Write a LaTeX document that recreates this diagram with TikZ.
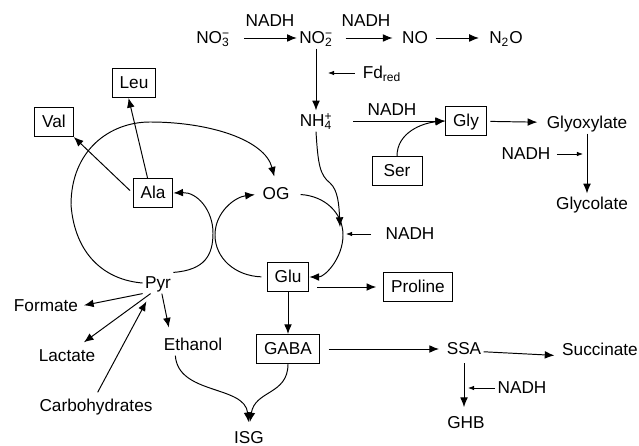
\documentclass[tikz,border=0pt]{standalone}
\usepackage{fontspec}
\setmainfont{Liberation Sans}
\usepackage{tikz}
\usetikzlibrary{arrows.meta, calc, positioning}
\tikzstyle{txt} = [inner sep=0.04cm, text height=1.5ex, text depth=0.25ex]
\tikzstyle{box} = [draw, txt, inner xsep=0.15cm, minimum height=0.58cm]
\tikzstyle{nadh} = [-{Latex[length=3.5pt,width=2.6pt]}, line width=0.4pt]
\newcommand{\ionchg}[2]{\rlap{\textsuperscript{#2}}\textsubscript{#1}}

\begin{document}
\begin{tikzpicture}[>={Latex[length=5.5pt,width=4.4pt]}, x=0.02cm, y=-0.02cm, line width=0.55pt,
    font=\fontsize{9.8}{11.8}\selectfont]
    \useasboundingbox (0,0) rectangle (639,446);

    \node[txt] (NOiii) at (213,38) {NO\ionchg{3}{−}};
    \node[txt] (NOii) at (316,38) {NO\ionchg{2}{−}};
    \node[txt] (NO) at (415,38) {NO};
    \node[txt] (NiiO) at (506,38) {N\textsubscript{2}O};
    \node[txt] (NADHa) at (270,21) {NADH};
    \node[txt] (NADHb) at (366,21) {NADH};
    \node[txt, inner xsep=0.15cm] (Fd) at (382,73) {Fd\textsubscript{red}};
    \node[txt] (NH) at (316,121) {NH\ionchg{4}{+}};
    \node[txt] (NADHc) at (392,110) {NADH};
    \node[box] (Gly) at (466,121) {Gly};
    \node[box, minimum width=1.0cm] (Ser) at (397,171) {Ser};
    \node[txt] (Glyox) at (587,123) {Glyoxylate};
    \node[txt, inner xsep=0.12cm] (NADHd) at (526,154) {NADH};
    \node[txt] (Glycol) at (592,204) {Glycolate};

    \node[box] (Leu) at (134,83) {Leu};
    \node[box] (Val) at (54,122) {Val};
    \node[box] (Ala) at (153,193) {Ala};
    \node[txt] (OG) at (276,194) {OG};
    \node[txt] (Pyr) at (158,283) {Pyr};
    \node[box] (Glu) at (288,277) {Glu};
    \node[txt, inner xsep=0.28cm] (NADHe) at (410,234) {NADH};
    \node[box] (Pro) at (418,287) {Proline};
    \node[box] (GABA) at (288,349) {GABA};
    \node[txt] (SSA) at (464,349) {SSA};
    \node[txt] (Succ) at (600,350) {Succinate};
    \node[txt] (NADHf) at (522,388) {NADH};
    \node[txt] (GHB) at (466,423) {GHB};
    \node[txt] (Form) at (46,306) {Formate};
    \node[txt] (Lact) at (67,356) {Lactate};
    \node[txt] (Carb) at (96,406) {Carbohydrates};
    \node[txt] (EtOH) at (193,345) {Ethanol};
    \node[txt] (ISG) at (249,438) {ISG};

    \coordinate (fdtip) at (328,73);
    \coordinate (nadhdtip) at (583,154);
    \coordinate (nadhetip) at (346,234);
    \coordinate (nadhftip) at (468,388);
    \coordinate (nhtip) at (340,227);

    \draw[->, shorten <=7pt] (NOiii) -- (NOii);
    \draw[->, shorten <=6pt, shorten >=4pt] (NOii) -- (NO);
    \draw[->, shorten <=3pt, shorten >=4.5pt] (NO) -- (NiiO);
    \draw[->] (NOii) -- (NH);
    \draw[nadh] (Fd) -- (fdtip);

    \draw[->, shorten <=10.5pt] (NH) -- (Gly);
    \draw[->] (Ser.north) to[out=90, in=185] (Gly.west);
    \draw[->, shorten <=2pt, shorten >=4pt] (Gly) -- (Glyox);
    \draw[->] (Glyox.south) -- (Glyox.south |- Glycol.north);
    \draw[nadh] (NADHd) -- (nadhdtip);

    \draw[->] (Ala.110) -- (Leu.250);
    \draw[->, shorten <=2pt] (Ala.west) -- (Val.south east);
    \draw[->, shorten >=4pt] (Pyr.west) .. controls (105,280) and (75,255) .. (71,205)
        .. controls (71,150) and (110,122) .. (150,122)
        .. controls (210,122) and (265,140) .. (OG.north);
    \draw[->] (Pyr.north east) .. controls (205,270) and (213,255) .. (213,233)
        .. controls (213,210) and (197,192) .. (Ala.east);
    \draw[->, shorten <=3pt, shorten >=3pt] (Glu.west) .. controls (235,276) and (215,258) .. (215,235)
        .. controls (215,212) and (235,197) .. (OG.west);
    \draw[->, shorten <=5pt] (OG.east) .. controls (325,196) and (343,213) .. (343,235)
        .. controls (343,258) and (325,277) .. (Glu.east);
    \draw[->] (NH.south) .. controls (318,165) and (320,175) .. (330,183)
        .. controls (338,190) and (339,205) .. (nhtip);
    \draw[nadh] (NADHe) -- (nadhetip);

    \draw[->, shorten <=4.5pt, shorten >=4pt] (Glu.east |- Pro.west) -- (Pro.west);
    \draw[->] (Glu) -- (GABA);
    \draw[->, shorten <=5pt, shorten >=3pt] (GABA) -- (SSA);
    \draw[->, shorten >=3pt] (SSA.-8) -- (Succ.188);
    \draw[->, shorten <=2pt, shorten >=3pt] (SSA.south) -- (SSA.south |- GHB.north);
    \draw[nadh] (NADHf) -- (nadhftip);

    \draw[->, shorten >=2pt] (Pyr.south west) -- (Form.east);
    \draw[->, shorten >=3pt] (Pyr.235) -- (Lact.40);
    \draw[->, shorten <=2pt, shorten >=5pt] (Carb.north) -- (Pyr.235);
    \draw[->, shorten >=4pt] (Pyr.290) -- (EtOH.155);
    \draw[->, shorten >=3pt] (EtOH.211) .. controls (178,395) and (245,385) .. (ISG.north);
    \draw[->, shorten >=3pt] (GABA.south) .. controls (288,395) and (255,390) .. (ISG.north);
\end{tikzpicture}
\end{document}
